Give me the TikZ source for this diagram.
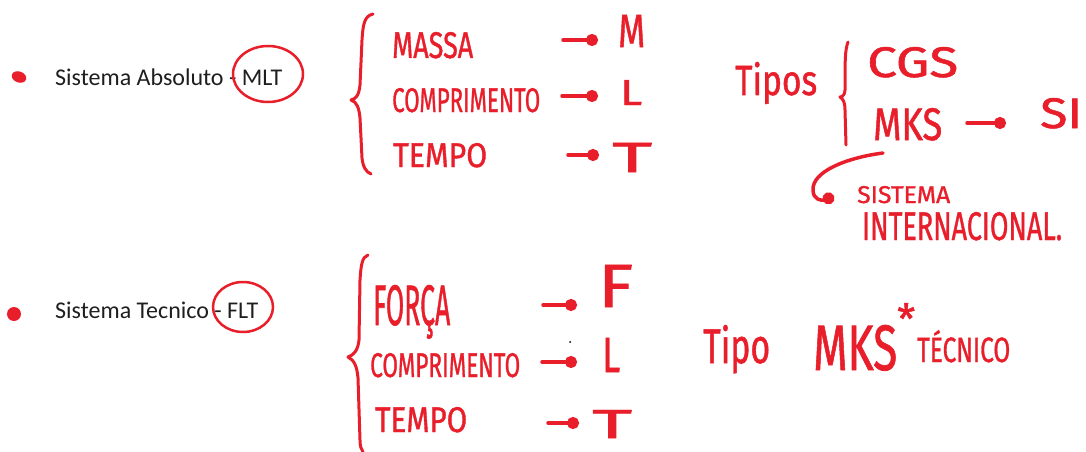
\documentclass[tikz,border=0pt]{standalone}
\usepackage{fontspec}
\setmainfont{Carlito}
\newfontfamily\hwfont{Fira Sans}[FakeBold=1.2]
\usetikzlibrary{arrows.meta}
\definecolor{ink}{HTML}{E81E2B}
\definecolor{txt}{HTML}{1E1E1E}
\newcommand{\hw}[3]{\resizebox{#1pt}{#2pt}{\hwfont #3}}
\tikzset{
  hand/.style={text=ink, inner sep=0pt, anchor=base west},
  printed/.style={text=txt, inner sep=0pt, anchor=base west, font=\fontsize{24}{28}\selectfont},
  stroke/.style={draw=ink, line width=3pt, line cap=round, line join=round},
  loop/.style={draw=ink, line width=2.5pt},
  dotarrow/.style={stroke, line width=3.5pt, -{Circle[length=12pt,width=12pt]}},
}
\begin{document}
\begin{tikzpicture}[x=1pt,y=-1pt]
\useasboundingbox (0,0) rectangle (1086,452);
% ---------- Sistema Absoluto ----------
\fill[ink, rotate around={-20:(19,77)}] (19,77) ellipse [x radius=7.5, y radius=5.5];
\node[printed] (abs) at (55,85) {Sistema Absoluto - MLT};
\draw[loop] (268,74) ellipse [x radius=35, y radius=28];
\draw[stroke] (373,14) .. controls (364,16) and (363,25) .. (362,40) -- (360,85)
  .. controls (359,95) and (356,99) .. (351,100)
  .. controls (357,102) and (359,108) .. (360,118) -- (362,158)
  .. controls (363,167) and (366,172) .. (371,174);
\node[hand] (massa) at (392,58) {\hw{81}{26}{MASSA}};
\node[hand] (comp1) at (392,112) {\hw{148}{24}{COMPRIMENTO}};
\node[hand] (tempo1) at (393,167) {\hw{94}{24}{TEMPO}};
\node[hand] (M) at (618,47) {\hw{27}{32}{M}};
\node[hand] (L1) at (620,105) {\hw{22}{25}{L}};
\node[hand] (T1) at (612,172) {\hw{40}{29}{T}};
\coordinate (a1s) at (563,40); \coordinate (a1e) at (598,40);
\coordinate (a2s) at (562,96); \coordinate (a2e) at (598,96);
\coordinate (a3s) at (568,155); \coordinate (a3e) at (599,155);
\draw[dotarrow] (a1s) -- (a1e);
\draw[dotarrow] (a2s) -- (a2e);
\draw[dotarrow] (a3s) -- (a3e);
% ---------- Tipos ----------
\node[hand] (tipos) at (735,95) {\hw{82}{33}{Tipos}};
\draw[stroke] (848,42) .. controls (845,50) and (845,60) .. (845,90)
  .. controls (845,95) and (842,97) .. (840,97)
  .. controls (843,99) and (845,102) .. (845,110) -- (846,145);
\node[hand] (cgs) at (867,77) {\hw{91}{30}{CGS}};
\node[hand] (mks1) at (873,140) {\hw{69}{32}{MKS}};
\node[hand] (si) at (1040,128) {\hw{42}{30}{SI}};
\coordinate (a4s) at (967,123); \coordinate (a4e) at (1006,123);
\draw[dotarrow] (a4s) -- (a4e);
\coordinate (cs) at (883,153); \coordinate (ce) at (834,196);
\draw[dotarrow] (cs) .. controls (845,158) and (812,172) .. (813,190)
  .. controls (813,200) and (822,201) .. (ce);
\node[hand] (sist) at (857,203) {\hw{93}{17}{SISTEMA}};
\node[hand] (inter) at (862,240) {\hw{200}{28}{INTERNACIONAL.}};
% ---------- Sistema Tecnico ----------
\fill[ink] (14,314) circle [radius=7];
\node[printed] (tec) at (55,318) {Sistema Tecnico - FLT};
\draw[loop] (243,307) ellipse [x radius=30, y radius=25];
\draw[stroke] (368,255) .. controls (362,257) and (361,265) .. (360,280) -- (359,340)
  .. controls (358,350) and (354,355) .. (348,357)
  .. controls (354,360) and (357,366) .. (358,378) -- (360,440)
  .. controls (360,446) and (361,449) .. (363,452);
\node[hand] (forca) at (373,325) {\hw{77}{40}{FORÇA}};
\node[hand] (comp2) at (370,377) {\hw{150}{24}{COMPRIMENTO}};
\node[hand] (tempo2) at (375,432) {\hw{92}{25}{TEMPO}};
\node[hand] (F) at (598,307) {\hw{35}{42}{F}};
\node[hand] (L2) at (602,372) {\hw{18}{34}{L}};
\node[hand] (T2) at (592,438) {\hw{40}{28}{T}};
\coordinate (b1s) at (543,305); \coordinate (b1e) at (577,305);
\coordinate (b2s) at (542,362); \coordinate (b2e) at (577,362);
\coordinate (b3s) at (548,423); \coordinate (b3e) at (579,423);
\draw[dotarrow] (b1s) -- (b1e);
\draw[dotarrow] (b2s) -- (b2e);
\draw[dotarrow] (b3s) -- (b3e);
\fill[black] (570,342) circle [radius=1];
\node[hand] (tipo) at (703,363) {\hw{67}{38}{Tipo}};
\node[hand] (mks2) at (813,370) {\hw{84}{45}{MKS}\hspace{0pt}\raisebox{51pt}{\resizebox{18pt}{15pt}{\hwfont\raisebox{-0.36em}[0.36em][0pt]{*}}}};
\node[hand] (tecnico) at (917,362) {\hw{93}{32}{TÉCNICO}};
\end{tikzpicture}
\end{document}
